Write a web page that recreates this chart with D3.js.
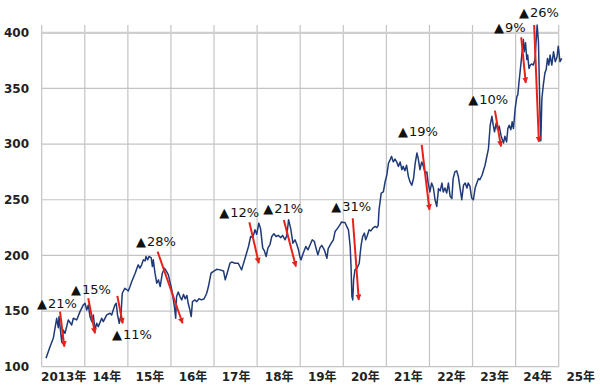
<!DOCTYPE html>
<html><head><meta charset="utf-8">
<script src="https://cdn.jsdelivr.net/npm/d3@7"></script>
<style>
html,body{margin:0;padding:0;background:#fff;}
svg{display:block;}
</style>
</head><body>
<svg id="chart" width="600" height="387"></svg>
<script>
// ---- data ----
const years = [
2013.100,2013.193,2013.269,2013.348,2013.385,2013.402,2013.464,2013.501,2013.541,2013.617,2013.696,2013.734,2013.812,2013.889,2013.966,
2014.005,2014.045,2014.082,2014.121,2014.161,2014.198,2014.237,2014.277,2014.314,2014.393,2014.430,2014.509,2014.585,2014.625,2014.660,2014.700,2014.730,2014.760,2014.800,2014.840,2014.870,2014.930,
2015.010,2015.050,2015.090,2015.170,2015.210,2015.240,2015.280,2015.320,2015.360,2015.400,2015.420,2015.460,2015.490,2015.540,2015.570,2015.590,2015.630,2015.670,2015.710,2015.750,2015.800,2015.850,2015.900,2015.940,
2016.020,2016.080,2016.110,2016.130,2016.170,2016.210,2016.250,2016.290,2016.330,2016.370,2016.400,2016.440,2016.470,2016.500,2016.560,2016.600,2016.650,2016.710,2016.770,2016.830,2016.870,2016.930,2016.980,
2017.060,2017.140,2017.220,2017.260,2017.290,2017.370,2017.410,2017.490,2017.560,2017.600,2017.640,2017.720,2017.800,2017.850,2017.900,2017.950,2017.990,
2018.040,2018.080,2018.130,2018.170,2018.210,2018.250,2018.300,2018.340,2018.390,2018.440,2018.490,2018.550,2018.590,2018.650,2018.690,2018.730,2018.780,2018.830,2018.880,2018.920,2018.960,
2019.000,2019.020,2019.070,2019.130,2019.180,2019.230,2019.280,2019.330,2019.360,2019.410,2019.460,2019.500,2019.560,2019.620,2019.650,2019.720,2019.770,2019.810,2019.870,2019.920,2019.960,
2020.000,2020.040,2020.080,2020.120,2020.160,2020.180,2020.200,2020.220,2020.240,2020.270,2020.320,2020.370,2020.410,2020.450,2020.490,2020.520,2020.550,2020.600,2020.640,2020.700,2020.740,2020.780,2020.810,2020.830,2020.880,2020.930,2020.970,
2021.010,2021.050,2021.090,2021.120,2021.160,2021.200,2021.240,2021.280,2021.320,2021.360,2021.390,2021.430,2021.470,2021.510,2021.550,2021.590,2021.630,2021.670,2021.710,2021.740,2021.780,2021.820,2021.860,2021.900,2021.940,2021.970,
2022.010,2022.050,2022.090,2022.130,2022.170,2022.210,2022.250,2022.290,2022.320,2022.360,2022.400,2022.440,2022.480,2022.520,2022.550,2022.590,2022.630,2022.670,2022.710,2022.750,2022.790,2022.830,2022.870,2022.900,2022.940,2022.980,
2023.020,2023.060,2023.100,2023.140,2023.170,2023.220,2023.290,2023.370,2023.410,2023.450,2023.480,2023.510,2023.550,2023.580,2023.620,2023.660,2023.690,2023.720,2023.750,2023.790,2023.820,2023.850,2023.890,2023.920,2023.950,2023.990,
2024.030,2024.050,2024.080,2024.120,2024.160,2024.180,2024.200,2024.230,2024.260,2024.280,2024.310,2024.340,2024.370,2024.410,2024.450,2024.470,2024.500,2024.530,2024.550,2024.570,2024.585,2024.610,2024.640,2024.680,2024.710,2024.740,2024.770,2024.800,2024.840,2024.880,2024.920,2024.960,2024.990,
2025.030,2025.070
];
const values = [
107.5,118,125.5,143.5,135,145,122.5,133,130,142,137.5,143.5,142,149.5,155.5,
157,151,155.5,145,140.5,146.5,133,139,136,143.5,140.5,146.5,148,146.5,151,155.5,157,146.5,139,146.5,166,170.5,
168,172,176.5,184,188.5,191.5,188.5,191.5,196,195,199,196,199,198,190,196,184,175,178,172,184,188.5,185.5,182.5,
169,154,143.5,163,167,163,160,165,161,164,157,151,145,158.5,160,158.5,161,160,161,166,172,184,185.5,
187.5,187,186,178,182,193,194,193,193,190,187,197.5,208,217,216,223,219,
229,224,206.5,204,199,206.5,210,217,219.5,217,218,216,218,214,218,232,224,211,214,210,205,
197.5,196,202,208,205,209.5,214,212.5,207.5,200.5,207,209,205,197.5,206,211,214,221.5,224.5,227.5,230,
229.5,229.5,226,223,208,190,163,160,178,187,188.5,193,208,217,220,214,217,223,222,225,226,225,227,241,256,257,266,
272,283,286,289,284,286.5,284,280,284,277,280,276,281,271,266,263,269,283,292,287,277,284,280,274,275,265,
257,265,261,250,244,260,258,265,257,260.5,256,265,253,251,269,275,276,271,260.5,250,263,265,260.5,265,262,251.5,
250,260.5,265,269,268,272,281,296,317,325,317,311,319,313,316,308,304,301,307,302,314,317,313,320,314,332,
343,344,356,371,386,394,383,391,376,380,368,371,372,371,376,389,407,392,356,320,303,341,352,364,367,377,371,380,371,383,374,378,388,
374,377
];
const yTicks = [100,150,200,250,300,350,400];
const yearGrid = [2013,2014,2015,2016,2017,2018,2019,2020,2021,2022,2023,2024,2025];
const yearLabels = ["2013年","14年","15年","16年","17年","18年","19年","20年","21年","22年","23年","24年","25年"];
// drawdown annotations: label, anchor year, anchor value
const dropLabels = ["21%","15%","11%","28%","12%","21%","31%","19%","10%","9%","26%"];
const labelYear  = [2012.89,2013.68,2014.63,2015.19,2017.12,2018.14,2019.72,2021.27,2022.90,2023.50,2024.08];
const labelValue = [157.3,169.9,129.4,213,239.1,242.7,244.5,311.9,339.8,405,418.5];
// red arrows: start (year,value) -> end (year,value)
const arrowStartYear  = [2013.425,2014.08,2014.755,2015.69,2017.82,2018.62,2020.22,2021.82,2023.52,2024.13,2024.43];
const arrowStartValue = [149.5,161.5,163.6,203.4,229.8,231.9,233.4,299.3,330,396,407];
const arrowEndYear    = [2013.525,2014.237,2014.88,2016.27,2018.04,2018.90,2020.36,2022.0,2023.66,2024.235,2024.54];
const arrowEndValue   = [118,130,139,139,193,190,160,241,298,355,302];

// ---- chart ----
const svg = d3.select("#chart");
const mLeft = 41.7, mRight = 558.7, mTop = 25, mBottom = 366.7;
const x = d3.scaleLinear().domain([2013, 2025]).range([mLeft, mRight]);
const y = d3.scaleLinear().domain([100, 407]).range([mBottom, mTop]);
const fontAxis = "'DejaVu Sans','Noto Sans CJK JP',sans-serif";

// grid
const grid = svg.append("g");
grid.selectAll("line.v").data(yearGrid).enter().append("line").attr("class", "v")
  .attr("x1", d => x(d)).attr("x2", d => x(d))
  .attr("y1", y(407)).attr("y2", y(100))
  .attr("stroke", "#c4c4c4").attr("stroke-width", 1.2);
grid.selectAll("line.h").data(yTicks).enter().append("line").attr("class", "h")
  .attr("x1", mLeft).attr("x2", mRight)
  .attr("y1", d => y(d)).attr("y2", d => y(d))
  .attr("stroke", d => d === 400 ? "#cfcfcf" : "#c4c4c4")
  .attr("stroke-width", d => d === 400 ? 2.2 : 1.2);

// y axis labels
const yAxis = d3.axisLeft(y).tickValues(yTicks).tickSize(0).tickPadding(12.7);
const gy = svg.append("g").attr("transform", `translate(${mLeft},0)`).call(yAxis);
gy.select(".domain").remove();
gy.selectAll("text").attr("font-family", fontAxis).attr("font-size", 12)
  .attr("font-weight", "bold").attr("fill", "#222");

// x labels
const xAxis = d3.axisBottom(x).tickValues(yearGrid.map(d => d + 0.5))
  .tickFormat((d, i) => yearLabels[i]).tickSize(0).tickPadding(6);
const gx = svg.append("g").attr("transform", `translate(0,${mBottom})`).call(xAxis);
gx.select(".domain").remove();
gx.selectAll("text").attr("font-family", fontAxis).attr("font-size", 12)
  .attr("font-weight", "bold").attr("fill", "#222");

// line
const series = years.map((t, i) => ({t, v: values[i]}));
svg.append("path").datum(series)
  .attr("fill", "none").attr("stroke", "#1f3a78").attr("stroke-width", 1.5)
  .attr("stroke-linejoin", "round")
  .attr("d", d3.line().x(d => x(d.t)).y(d => y(d.v)));

// arrows
const defs = svg.append("defs");
defs.append("marker").attr("id", "ah").attr("viewBox", "0 0 10 10")
  .attr("refX", 9).attr("refY", 5).attr("markerWidth", 6).attr("markerHeight", 6)
  .attr("markerUnits", "userSpaceOnUse").attr("orient", "auto")
  .append("path").attr("d", "M0,0 L10,5 L0,10 z").attr("fill", "#e8221b");
const arrows = arrowStartYear.map((t, i) => ({
  x1: t, y1: arrowStartValue[i], x2: arrowEndYear[i], y2: arrowEndValue[i]}));
svg.append("g").selectAll("line").data(arrows).enter().append("line")
  .attr("x1", d => x(d.x1)).attr("y1", d => y(d.y1))
  .attr("x2", d => x(d.x2)).attr("y2", d => y(d.y2))
  .attr("stroke", "#e8221b").attr("stroke-width", 2)
  .attr("marker-end", "url(#ah)");

// labels
const lab = svg.append("g").selectAll("text")
  .data(dropLabels.map((s, i) => ({s, t: labelYear[i], v: labelValue[i]})))
  .enter().append("text")
  .attr("x", d => x(d.t)).attr("y", d => y(d.v))
  .attr("dy", "0.36em")
  .attr("font-family", "'DejaVu Sans',sans-serif").attr("font-size", 13)
  .attr("fill", "#111");
lab.append("tspan").text("▲");
lab.append("tspan").attr("dx", 1).text(d => d.s);
</script>
</body></html>
